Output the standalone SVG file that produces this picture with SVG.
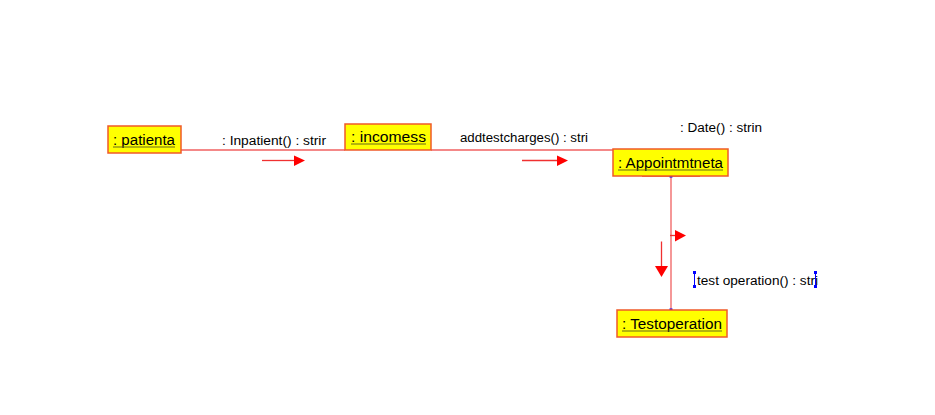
<svg xmlns="http://www.w3.org/2000/svg" width="935" height="415" viewBox="0 0 935 415">
<style>
.box{fill:#ffff00;stroke:#f05a28;stroke-width:1.5}
.shadow{fill:#d8d8d8}
.nt{font-family:"Liberation Sans",Arial,sans-serif;font-size:14px;fill:#000}
.ul{stroke:#6b6b1a;stroke-width:1.2}
.lt{font-family:"Liberation Sans",Arial,sans-serif;font-size:12px;fill:#000}
.conn{stroke:#f06060;stroke-width:1.3;fill:none}
.arr{stroke:#f03030;stroke-width:1.3;fill:none}
.head{fill:#ff0000}
.h{fill:#0000ff}
</style>
<rect width="935" height="415" fill="#ffffff"/>
<g id="connectors">
<line class="conn" x1="181" y1="150" x2="345" y2="150"/>
<line class="conn" x1="431" y1="150" x2="613" y2="150"/>
<line class="conn" x1="671" y1="176" x2="671" y2="310"/>
<line x1="642" y1="176" x2="700" y2="176" stroke="#d04020" stroke-width="1.5"/>
<rect class="h" x="669.5" y="174.5" width="3" height="3" fill="#4a00a0"/>
<rect class="h" x="669.5" y="308.5" width="3" height="3"/>
<line class="arr" x1="262" y1="160.5" x2="294" y2="160.5"/>
<polygon class="head" points="294,155.5 305,160.5 294,166"/>
<text class="lt" x="222" y="145" textLength="104" lengthAdjust="spacingAndGlyphs">: Inpatient() : strir</text>
<line class="arr" x1="522" y1="160.5" x2="557" y2="160.5"/>
<polygon class="head" points="557,155.5 568,160.5 557,166"/>
<text class="lt" x="460" y="142" textLength="128" lengthAdjust="spacingAndGlyphs">addtestcharges() : stri</text>
<text class="lt" x="680" y="132" textLength="82" lengthAdjust="spacingAndGlyphs">: Date() : strin</text>
<line class="arr" x1="670" y1="235.5" x2="675" y2="235.5"/>
<polygon class="head" points="675,230 686,235.5 675,241.5"/>
<line class="arr" x1="661.5" y1="241.5" x2="661.5" y2="266"/>
<polygon class="head" points="655,266 668,266 661.5,277"/>
<text class="lt" x="697" y="285" textLength="121" lengthAdjust="spacingAndGlyphs">test operation() : stri</text>
<line x1="694.5" y1="272" x2="694.5" y2="288" stroke="#0000ff" stroke-width="1"/>
<rect class="h" x="693" y="271" width="3" height="3"/>
<rect class="h" x="693" y="285" width="3" height="3"/>
<line x1="815.5" y1="272" x2="815.5" y2="288" stroke="#0000ff" stroke-width="1"/>
<rect class="h" x="814" y="271" width="3" height="3"/>
<rect class="h" x="814" y="285" width="3" height="3"/>
</g>
<g id="patienta">
<rect class="box" x="108" y="126" width="73" height="27"/>
<text class="nt" x="113" y="145" textLength="62" lengthAdjust="spacingAndGlyphs">: patienta</text>
<line class="ul" x1="113" y1="147" x2="175" y2="147"/>
</g>
<g id="incomess">
<rect class="box" x="345" y="124" width="86" height="26"/>
<text class="nt" x="351" y="142" textLength="75" lengthAdjust="spacingAndGlyphs">: incomess</text>
<line class="ul" x1="351" y1="144" x2="426" y2="144"/>
</g>
<g id="appointmtneta">
<rect class="box" x="613" y="149" width="115" height="27"/>
<text class="nt" x="618" y="168" textLength="105" lengthAdjust="spacingAndGlyphs">: Appointmtneta</text>
<line class="ul" x1="618" y1="170" x2="723" y2="170"/>
</g>
<g id="testoperation">
<rect class="box" x="617" y="310" width="110" height="27"/>
<text class="nt" x="622" y="329" textLength="100" lengthAdjust="spacingAndGlyphs">: Testoperation</text>
<line class="ul" x1="622" y1="331" x2="722" y2="331"/>
</g>
</svg>
